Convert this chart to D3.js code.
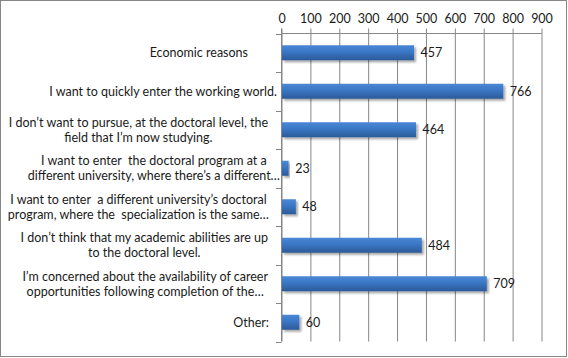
<!DOCTYPE html>
<html><head><meta charset="utf-8">
<script src="https://cdn.jsdelivr.net/npm/d3@7"></script>
<style>
body{margin:0;background:#fff;}
svg{display:block;}
text{font-family:Lato, "Open Sans", sans-serif;fill:#1a1a1a;}
.cat{white-space:pre;}
</style></head>
<body>
<svg id="chart" width="568" height="358"></svg>
<script>
const categories = [
  ["Economic reasons"],
  ["I want to quickly enter the working world."],
  ["I don\u2019t want to pursue, at the doctoral level, the", "field that I\u2019m now studying."],
  ["I want to enter  the doctoral program at a", "different university, where there\u2019s a different\u2026"],
  ["I want to enter  a different university\u2019s doctoral", "program, where the  specialization is the same\u2026"],
  ["I don\u2019t think that my academic abilities are up", "to the doctoral level."],
  ["I\u2019m concerned about the availability of career", "opportunities following completion of the\u2026"],
  ["Other:"]
];
const values = [457, 766, 464, 23, 48, 484, 709, 60];
const tickValues = [0, 100, 200, 300, 400, 500, 600, 700, 800, 900];
// right edge of each label block (layout)
const labelRight = [248, 277, 268, 280, 269, 268, 268, 269];

const svg = d3.select("#chart");
const pLeft = 281.5, pRight = 541.5, pTop = 33.5, pBottom = 341.5;

const x = d3.scaleLinear().domain([0, 900]).range([pLeft, pRight]);
const y = d3.scaleBand().domain(d3.range(categories.length)).range([pTop, pBottom]).paddingInner(0.61).paddingOuter(0.305);
const band = d3.scaleBand().domain(d3.range(categories.length)).range([pTop, pBottom]);

// outer border
svg.append("rect").attr("x", 0.5).attr("y", 0.5).attr("width", 566).attr("height", 356)
  .attr("fill", "#fff").attr("stroke", "#868686").attr("stroke-width", 1);

const defs = svg.append("defs");
const grad = defs.append("linearGradient").attr("id", "barGrad").attr("x1", 0).attr("y1", 0).attr("x2", 0).attr("y2", 1);
grad.append("stop").attr("offset", "0%").attr("stop-color", "#4a88d6");
grad.append("stop").attr("offset", "45%").attr("stop-color", "#3a76c4");
grad.append("stop").attr("offset", "100%").attr("stop-color", "#2b5a98");
const filt = defs.append("filter").attr("id", "shadow").attr("x", "-10%").attr("y", "-30%").attr("width", "130%").attr("height", "180%");
filt.append("feGaussianBlur").attr("in", "SourceAlpha").attr("stdDeviation", 1.2).attr("result", "b");
filt.append("feOffset").attr("in", "b").attr("dx", 1.5).attr("dy", 2).attr("result", "o");
filt.append("feComponentTransfer").attr("in", "o").attr("result", "o2")
  .append("feFuncA").attr("type", "linear").attr("slope", 0.35);
const fm = filt.append("feMerge");
fm.append("feMergeNode").attr("in", "o2");
fm.append("feMergeNode").attr("in", "SourceGraphic");

// gridlines + top axis
const xAxis = d3.axisTop(x).tickValues(tickValues).tickSize(5).tickPadding(6).tickFormat(d3.format("d"));
const gx = svg.append("g").attr("transform", `translate(0,${pTop})`).call(xAxis);
gx.select(".domain").attr("stroke", "#868686").attr("d", `M${pLeft},0H${pRight}`);
gx.selectAll(".tick line").attr("stroke", "#868686").attr("y2", pBottom - pTop).attr("y1", -5);
gx.selectAll(".tick text").attr("font-size", "12.5px").attr("fill", "#1a1a1a");
gx.attr("font-family", null).attr("font-size", null);

// left axis (category ticks)
const yTicks = d3.range(categories.length + 1).map(i => pTop + i * band.step());
svg.append("g").selectAll("line").data(yTicks).join("line")
  .attr("x1", pLeft - 5.5).attr("x2", pLeft).attr("y1", d => Math.round(d) + 0.5).attr("y2", d => Math.round(d) + 0.5)
  .attr("stroke", "#868686");
svg.append("line").attr("x1", pLeft).attr("x2", pLeft).attr("y1", pTop - 5).attr("y2", pBottom).attr("stroke", "#868686");

// bars
svg.append("g").selectAll("rect").data(values).join("rect")
  .attr("x", x(0) + 0.5)
  .attr("y", (d, i) => y(i))
  .attr("width", d => x(d) - x(0))
  .attr("height", y.bandwidth())
  .attr("fill", "url(#barGrad)")
  .attr("filter", "url(#shadow)");

// value labels
svg.append("g").selectAll("text").data(values).join("text")
  .attr("x", d => x(d) + 7)
  .attr("y", (d, i) => y(i) + y.bandwidth() / 2)
  .attr("dy", "0.35em")
  .attr("font-size", "12.5px")
  .text(d => d);

// category labels
const lh = 15;
categories.forEach((lines, i) => {
  const cy = band(i) + band.bandwidth() / 2;
  const g = svg.append("g");
  const texts = lines.map((ln, j) => g.append("text")
    .attr("class", "cat")
    .attr("font-size", "12.5px")
    .attr("text-anchor", "middle")
    .attr("y", cy + (j - (lines.length - 1) / 2) * lh)
    .attr("dy", "0.35em")
    .text(ln));
  const maxW = d3.max(texts, t => t.node().getComputedTextLength());
  const cx = labelRight[i] - maxW / 2;
  texts.forEach(t => t.attr("x", cx));
});
</script>
</body></html>
